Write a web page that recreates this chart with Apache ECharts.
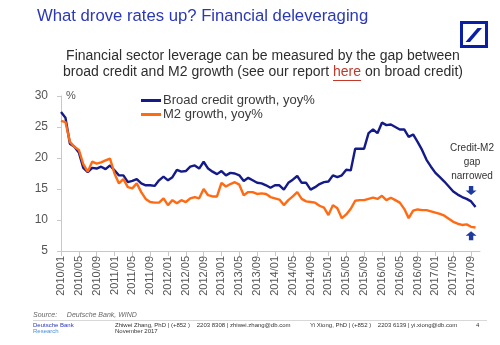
<!DOCTYPE html>
<html>
<head>
<meta charset="utf-8">
<script src="https://cdn.jsdelivr.net/npm/echarts@6/dist/echarts.min.js"></script>
<style>
html,body{margin:0;padding:0;background:#fff;}
#c{width:500px;height:345px;}
</style>
</head>
<body>
<div id="c"></div>
<script>
// Categories: monthly 2010/01 .. 2017/11 (last category extends the axis)
var months = [];
for (var y = 2010; y <= 2017; y++) {
  for (var m = 1; m <= 12; m++) {
    if (y === 2017 && m > 11) break;
    months.push(y + '/' + (m < 10 ? '0' + m : '' + m));
  }
}
var yTicks = [5, 10, 15, 20, 25, 30];

var broadCredit = [
  27.4, 26.5, 22.3, 21.8, 20.9, 18.4, 17.7, 18.4, 18.3, 18.6, 18.2, 18.8,
  18.0, 17.2, 17.2, 16.1, 16.3, 16.6, 15.9, 15.6, 15.6, 15.5, 16.4, 17.0,
  16.4, 16.9, 18.1, 17.8, 17.9, 18.6, 18.8, 18.3, 19.4, 18.3, 17.8, 17.4,
  17.9, 17.2, 17.6, 17.5, 17.2, 16.3, 16.8, 16.4, 16.0, 15.9, 15.6, 15.2,
  15.6, 15.6, 14.9, 16.0, 16.5, 17.1, 16.0, 16.0, 14.9, 15.3, 15.8, 16.1,
  16.2, 17.2, 16.9, 17.2, 18.1, 18.0, 21.5, 21.5, 21.5, 24.0, 24.6, 24.0,
  25.7, 25.3, 25.4, 25.0, 24.6, 24.6, 23.4, 23.8, 22.6, 21.3, 19.7, 18.6,
  17.6, 16.9, 16.2, 15.4, 14.6, 14.1, 13.7, 13.4, 13.0, 12.1
];
var m2Growth = [
  26.0, 25.8, 22.6, 21.8, 21.3, 19.0, 17.8, 19.4, 19.1, 19.3, 19.6, 19.9,
  17.5, 15.9, 16.6, 15.3, 15.1, 15.9, 14.5, 13.4, 12.9, 12.8, 12.8, 13.5,
  12.4, 13.2, 12.7, 13.2, 12.9, 13.5, 13.7, 13.5, 15.0, 14.0, 13.8, 13.8,
  16.0, 15.4, 15.8, 16.1, 15.7, 14.0, 14.5, 14.5, 14.2, 14.3, 14.2, 13.7,
  13.5, 13.3, 12.4, 13.2, 13.8, 14.5, 13.4, 13.0, 12.9, 12.8, 12.3, 12.0,
  10.8, 12.4, 11.9, 10.3, 10.9, 11.8, 13.1, 13.2, 13.2, 13.4, 13.6, 13.4,
  13.9, 13.2, 13.6, 13.2, 12.8, 11.8, 10.3, 11.5, 11.7, 11.6, 11.6, 11.4,
  11.2, 11.0, 10.7, 10.2, 9.7, 9.4, 9.2, 9.3, 8.9, 8.8
];
var seriesNames = ['Broad credit growth, yoy%', 'M2 growth, yoy%'];
var arrowIdx = 92;

var FONT = '"Liberation Sans", Arial, sans-serif';
var BLUE = '#141a8a';
var ORANGE = '#ff6a12';
var downArrow = 'path://M3,0 L7,0 L7,5 L10,5 L5,10 L0,5 L3,5 Z';
var upArrow = 'path://M5,0 L10,5 L7,5 L7,10 L3,10 L3,5 L0,5 Z';

// subtitle line 2 layout (measure to place the underline under "here")
var subFont = '14px ' + FONT;
var sub2a = 'broad credit and M2 growth (see our report ', sub2b = 'here', sub2c = ' on broad credit)';
var cv = document.createElement('canvas').getContext('2d');
cv.font = subFont;
var wA = cv.measureText(sub2a).width, wB = cv.measureText(sub2b).width, wC = cv.measureText(sub2c).width;
var sub2Left = 263 - (wA + wB + wC) / 2;

var chart = echarts.init(document.getElementById('c'), null, {renderer: 'canvas'});
chart.setOption({
  animation: false,
  backgroundColor: '#fff',
  textStyle: {fontFamily: FONT},
  grid: {left: 61, right: 20, top: 96, bottom: 94, containLabel: false},
  legend: {
    orient: 'vertical', left: 136, top: 89, itemGap: 1,
    itemWidth: 20, itemHeight: 3, icon: 'rect',
    textStyle: {fontFamily: FONT, fontSize: 13, color: '#3a3a3a', padding: [0, 0, 0, -3]},
    data: seriesNames
  },
  xAxis: {
    type: 'category', data: months, boundaryGap: false,
    axisLine: {lineStyle: {color: '#c8c8c8', width: 1}},
    axisTick: {show: true, interval: 3, length: 5, lineStyle: {color: '#c8c8c8'}},
    axisLabel: {interval: 3, rotate: 90, fontSize: 11, color: '#555', fontFamily: FONT, margin: 5},
    splitLine: {show: false}
  },
  yAxis: {
    type: 'value', min: 5, max: 30, interval: 5,
    axisLine: {show: true, lineStyle: {color: '#c8c8c8', width: 1}},
    axisTick: {show: true, length: 4, lineStyle: {color: '#c8c8c8'}},
    axisLabel: {fontSize: 12, color: '#555', fontFamily: FONT, margin: 13,
      formatter: function (v) { return yTicks.indexOf(v) >= 0 ? String(v) : ''; }},
    splitLine: {show: false}
  },
  series: [
    {
      name: seriesNames[0], type: 'line', data: broadCredit, symbol: 'none',
      lineStyle: {color: BLUE, width: 2.4}, itemStyle: {color: BLUE},
      markPoint: {
        symbol: downArrow, symbolSize: [11, 9], symbolOffset: [0, -11],
        itemStyle: {color: '#1f3a9e'}, label: {show: false},
        data: [{coord: [months[arrowIdx], broadCredit[arrowIdx]]}]
      }
    },
    {
      name: seriesNames[1], type: 'line', data: m2Growth, symbol: 'none',
      lineStyle: {color: ORANGE, width: 2.4}, itemStyle: {color: ORANGE},
      markPoint: {
        symbol: upArrow, symbolSize: [11, 9], symbolOffset: [0, 9],
        itemStyle: {color: '#1f3a9e'}, label: {show: false},
        data: [{coord: [months[arrowIdx], m2Growth[arrowIdx]]}]
      }
    }
  ],
  graphic: [
    {type: 'text', x: 37, y: 8, style: {text: 'What drove rates up? Financial deleveraging',
      font: '16.7px ' + FONT, fill: '#2b38b8'}},
    // logo
    {type: 'rect', shape: {x: 461.5, y: 22.5, width: 25, height: 24}, style: {fill: 'none', stroke: '#0a1fa8', lineWidth: 3}},
    {type: 'polygon', shape: {points: [[465.5, 42], [470, 42], [482, 28], [477.5, 28]]}, style: {fill: '#0a1fa8'}},
    // subtitle
    {type: 'text', x: 263, y: 49, style: {text: 'Financial sector leverage can be measured by the gap between',
      font: subFont, fill: '#2e2e2e', align: 'center'}},
    {type: 'text', x: sub2Left, y: 65, style: {
      text: '{a|' + sub2a + '}{r|' + sub2b + '}{a|' + sub2c + '}',
      rich: {a: {font: subFont, fill: '#2e2e2e'}, r: {font: subFont, fill: '#c0392b'}}
    }},
    {type: 'line', shape: {x1: sub2Left + wA, y1: 80.5, x2: sub2Left + wA + wB, y2: 80.5}, style: {stroke: '#c0392b', lineWidth: 1}},
    // y unit
    {type: 'text', x: 66, y: 90, style: {text: '%', font: '11px ' + FONT, fill: '#555'}},
    // annotation
    {type: 'text', x: 472, y: 141, style: {text: 'Credit-M2\ngap\nnarrowed', font: '10px ' + FONT, fill: '#333', align: 'center', lineHeight: 14}},
    // source
    {type: 'text', x: 33, y: 312, style: {text: 'Source:     Deutsche Bank, WIND', font: 'italic 7px ' + FONT, fill: '#666'}},
    {type: 'line', shape: {x1: 33, y1: 320.5, x2: 487, y2: 320.5}, style: {stroke: '#d8d8d8', lineWidth: 1}},
    // footer
    {type: 'text', x: 33, y: 322, style: {text: 'Deutsche Bank', font: '6px ' + FONT, fill: '#2b38b8'}},
    {type: 'text', x: 33, y: 328, style: {text: 'Research', font: '6px ' + FONT, fill: '#4a8fd8'}},
    {type: 'text', x: 115, y: 322, style: {text: 'Zhiwei Zhang, PhD | (+852 )    2203 8308 | zhiwei.zhang@db.com', font: '6px ' + FONT, fill: '#333'}},
    {type: 'text', x: 115, y: 328, style: {text: 'November 2017', font: '6px ' + FONT, fill: '#333'}},
    {type: 'text', x: 310, y: 322, style: {text: 'Yi Xiong, PhD | (+852 )    2203 6139 | yi.xiong@db.com', font: '6px ' + FONT, fill: '#333'}},
    {type: 'text', x: 476, y: 322, style: {text: '4', font: '6px ' + FONT, fill: '#333'}}
  ]
});
</script>
</body>
</html>
